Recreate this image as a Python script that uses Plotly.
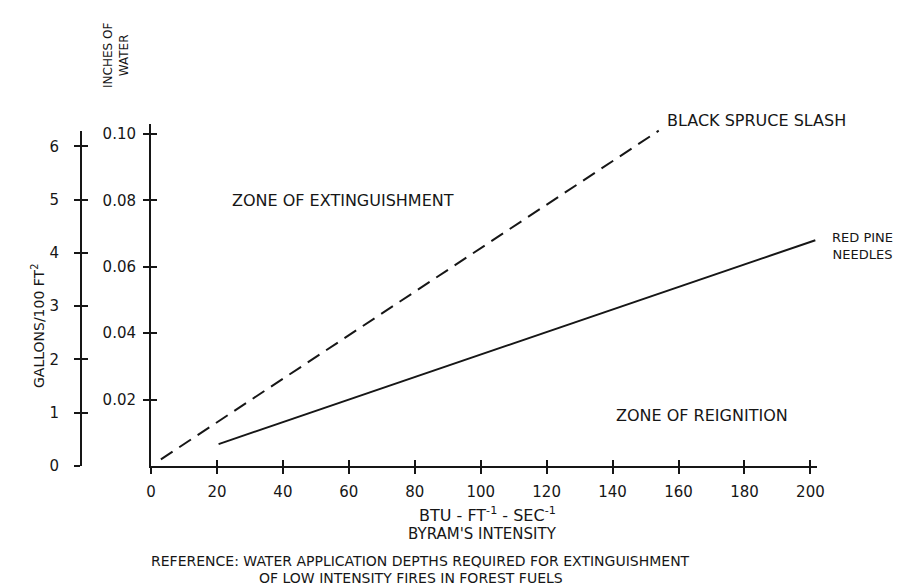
import plotly.graph_objects as go

# ---- data ----
x_ticks = [0, 20, 40, 60, 80, 100, 120, 140, 160, 180, 200]
inch_ticks = [0.02, 0.04, 0.06, 0.08, 0.10]
inch_labels = ["0.02", "0.04", "0.06", "0.08", "0.10"]
gal_ticks = [0, 1, 2, 3, 4, 5, 6]
GAL_TO_IN = 231.0 / 14400.0  # inches of water per gallon / 100 ft^2

spruce_x = [3, 154]
spruce_y = [0.002, 0.101]
pine_x = [20.5, 201.5]
pine_y = [0.0066, 0.068]

FONT = "DejaVu Sans"
INK = "#161616"

# plot frame (pixels) used to place text
L, RE, T, B = 60, 809, 116, 458
def pxx(p):
    return (p - L) / (RE - L)
def pxy(p):
    return (B - p) / (B - T)

XMAX = 202
YMAX = 0.103
dom0 = pxx(143)
gal_dom_top = pxy(123)

fig = go.Figure()

fig.add_trace(go.Scatter(x=spruce_x, y=spruce_y, mode="lines",
                         line=dict(color=INK, width=2, dash="14px,8px"),
                         hoverinfo="skip", showlegend=False))
fig.add_trace(go.Scatter(x=pine_x, y=pine_y, mode="lines",
                         line=dict(color=INK, width=2),
                         hoverinfo="skip", showlegend=False))
# helper (empty) traces so that the extra axes are drawn
for xa, ya in [("x2", "y"), ("x", "y3"), ("x", "y2"), ("x", "y4")]:
    fig.add_trace(go.Scatter(x=[None], y=[None], xaxis=xa, yaxis=ya,
                             showlegend=False, hoverinfo="skip"))

tickfont = dict(family=FONT, size=15, color=INK)
common = dict(showgrid=False, zeroline=False, linecolor=INK, tickcolor=INK,
              tickwidth=1.6, ticklen=6)

fig.update_layout(
    width=902, height=588,
    margin=dict(l=L, r=902 - RE, t=T, b=588 - B),
    paper_bgcolor="white", plot_bgcolor="rgba(0,0,0,0)",
    showlegend=False,
    xaxis=dict(domain=[dom0, 1], range=[0, XMAX], tickvals=x_ticks,
               ticktext=[str(v) for v in x_ticks], ticks="outside",
               showline=True, linewidth=2, tickfont=tickfont,
               ticklabelstandoff=5, anchor="y", **common),
    xaxis2=dict(domain=[dom0, 1], range=[0, XMAX], tickvals=x_ticks,
                ticks="inside", showline=False, showticklabels=False,
                overlaying="x", anchor="y", side="bottom", **common),
    yaxis=dict(domain=[0, 1], range=[0, YMAX], tickvals=inch_ticks,
               ticktext=inch_labels, ticks="outside", showline=True,
               linewidth=2, tickfont=tickfont, ticklabelstandoff=4,
               anchor="x", **common),
    yaxis3=dict(range=[0, YMAX], tickvals=inch_ticks, ticks="inside",
                showline=False, showticklabels=False, overlaying="y",
                anchor="x", **common),
    yaxis2=dict(domain=[0, gal_dom_top], range=[0, YMAX * gal_dom_top / GAL_TO_IN],
                tickvals=gal_ticks, ticktext=[str(v) for v in gal_ticks],
                ticks="outside", showline=True, linewidth=2,
                tickfont=tickfont, ticklabelstandoff=12,
                anchor="free", position=pxx(73), **common),
    yaxis4=dict(range=[0, YMAX * gal_dom_top / GAL_TO_IN], tickvals=gal_ticks,
                ticks="inside", showline=False, showticklabels=False,
                overlaying="y2", anchor="free", position=pxx(73), **common),
)

def note(text, xp, yp, size=16, xanchor="left", angle=0):
    fig.add_annotation(text=text, x=pxx(xp), y=pxy(yp), xref="paper", yref="paper",
                       xanchor=xanchor, yanchor="middle", showarrow=False,
                       textangle=angle, borderpad=0,
                       font=dict(family=FONT, size=size, color=INK))

note("BLACK SPRUCE SLASH", 658, 113)
note("RED PINE<br>NEEDLES", 823, 238, size=13)
note("ZONE OF EXTINGUISHMENT", 223, 192)
note("ZONE OF REIGNITION", 607, 407)
note("BTU - FT<sup>-1</sup> - SEC<sup>-1</sup>", 480, 506, xanchor="center")
note("BYRAM'S INTENSITY", 474, 526, size=15, xanchor="center")
note("REFERENCE: WATER APPLICATION DEPTHS REQUIRED FOR EXTINGUISHMENT", 142, 553, size=14)
note("OF LOW INTENSITY FIRES IN FOREST FUELS", 250, 570, size=14)
note("INCHES OF<br>WATER", 108, 48, size=12, xanchor="center", angle=-90)
note("GALLONS/100 FT<sup>2</sup>", 30, 318, size=14, xanchor="center", angle=-90)

fig.write_html("out.html")
